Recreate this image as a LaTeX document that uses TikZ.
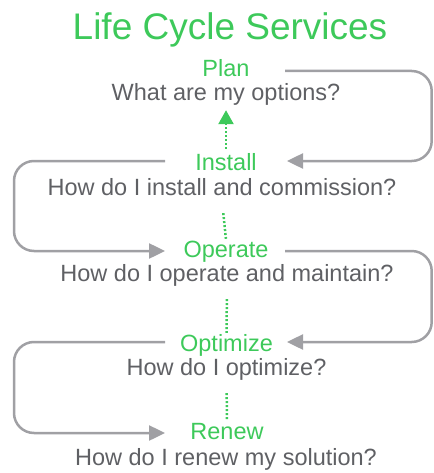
\documentclass[tikz,border=0pt]{standalone}
\usepackage{fontspec}
\setmainfont{Liberation Sans}
\usetikzlibrary{arrows.meta}
\definecolor{lcgreen}{RGB}{61,201,90}
\definecolor{lctext}{RGB}{95,96,100}
\definecolor{lcline}{RGB}{160,160,164}
\begin{document}
\begin{tikzpicture}[x=1pt, y=-1pt,
  title/.style = {anchor=base, inner sep=0, lcgreen, font=\fontsize{37}{40}\selectfont},
  stage/.style = {anchor=base, inner sep=0, text height=17pt, text depth=5pt, lcgreen, font=\fontsize{23.5}{26}\selectfont},
  ask/.style = {anchor=base, inner sep=0, text height=17pt, text depth=5pt, lctext, font=\fontsize{23.5}{26}\selectfont},
  dots/.style = {lcgreen, line width=2.5pt, dash pattern=on 2pt off 2pt, shorten <=13pt, shorten >=1pt},
  goback/.style = {lcline, line width=2.5pt, rounded corners=20pt, -{Triangle[length=16pt,width=15pt]}}]
\useasboundingbox (0,0) rectangle (433,473);
\node[title] (title) at (230,40) {Life Cycle Services};
% stages and their questions
\node[stage] (plan) at (226,77) {Plan};
\node[ask] (planq) at (226,101) {What are my options?};
\node[stage] (install) at (226,170) {Install};
\node[ask] (installq) at (222,195) {How do I install and commission?};
\node[stage] (operate) at (226,257) {Operate};
\node[ask] (operateq) at (227,281) {How do I operate and maintain?};
\node[stage] (optimize) at (226.5,351) {Optimize};
\node[ask] (optimizeq) at (226.5,375) {How do I optimize?};
\node[stage] (renew) at (227,439) {Renew};
\node[ask] (renewq) at (226,465) {How do I renew my solution?};
% dotted links
\draw[lcgreen, line width=2.5pt, dash pattern=on 2pt off 2pt, shorten <=4pt, shorten >=6pt,
  -{Triangle[length=14pt,width=15pt,sep=-2pt]}] (install.north) -- (planq.south);
\draw[dots] (installq.south) -- (operate.north);
\draw[dots] (operateq.south) -- (optimize.north);
\draw[dots] (optimizeq.south) -- (renew.north);
% grey loops
\coordinate (planR) at (285,71);
\coordinate (installR) at (287,161);
\coordinate (installL) at (165,161);
\coordinate (operateL) at (165,251);
\coordinate (operateR) at (285,251);
\coordinate (optimizeR) at (287,342);
\coordinate (optimizeL) at (165,342);
\coordinate (renewL) at (165,433);
\draw[goback] (planR) -- (431.7,71) -- (431.7,161) -- (installR);
\draw[goback] (installL) -- (14,161) -- (14,251) -- (operateL);
\draw[goback] (operateR) -- (431.7,251) -- (431.7,342) -- (optimizeR);
\draw[goback] (optimizeL) -- (14,342) -- (14,433) -- (renewL);
\end{tikzpicture}
\end{document}
